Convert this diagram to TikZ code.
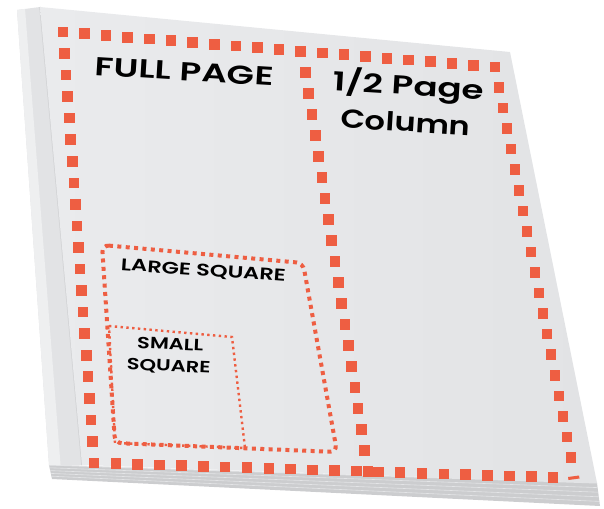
\documentclass[tikz,border=0pt]{standalone}
\usepackage{fontspec}
\setmainfont{Poppins}[BoldFont={Poppins SemiBold}]
\usetikzlibrary{calc}
\definecolor{dotorange}{RGB}{238,94,66}
\definecolor{pageleft}{RGB}{234,235,237}
\definecolor{pageright}{RGB}{226,227,229}
\definecolor{bandgray}{RGB}{226,227,229}
\definecolor{bandlight}{RGB}{238,239,240}
\definecolor{bandline}{RGB}{210,211,213}
\definecolor{stackgray}{RGB}{204,205,207}
\definecolor{stackline}{RGB}{228,229,231}
\newcommand\squarerow[5]{%
  \foreach \i in {#4,...,#5}{%
    \fill[sqdot] ($(#1)!\i/#3!(#2)$) +(-5.3,-5.3) rectangle +(5.3,5.3);}}
\begin{document}
\begin{tikzpicture}[x=1pt,y=-1pt,
  sqdot/.style={fill=dotorange},
  bigtitle/.style={font=\fontsize{26}{30}\selectfont\bfseries, anchor=base, inner sep=0pt, rotate=-3.5, xscale=1.37},
  midtitle/.style={font=\fontsize{16.8}{20}\selectfont\bfseries, anchor=base, inner sep=0pt, rotate=-4, xscale=1.34},
  smalltitle/.style={font=\fontsize{16.2}{20}\selectfont\bfseries, anchor=base, inner sep=0pt, rotate=-2.5, xscale=1.3},
  largebox/.style={draw=dotorange, line width=4pt, dash pattern=on 4pt off 4.4pt, rounded corners=7pt},
  smallbox/.style={draw=dotorange, line width=2.4pt, dash pattern=on 2.4pt off 3.4pt},
  edge line/.style={line width=0.6pt}]
\useasboundingbox (0,0) rectangle (604,508);

% paper geometry
\coordinate (L1) at (17,10);
\coordinate (L2) at (40,7);
\coordinate (P2) at (510,52);
\coordinate (P3) at (597,483);
\coordinate (L3) at (82,465);
\coordinate (L4) at (49,465);
\coordinate (S3) at (600,506);
\coordinate (S4) at (52,479);

% stack side
\fill[stackgray] (L4) -- (P3) -- (S3) -- (S4) -- cycle;
\foreach \f in {0.2,0.4,0.6,0.8}
  \draw[stackline, edge line] ($(L4)!\f!(S4)$) -- ($(P3)!\f!(S3)$);
\draw[stackline, line width=1pt] (L4) -- (P3);

% left band
\fill[bandgray] (L1) -- (L2) -- (L3) -- (L4) -- cycle;
\fill[bandlight] (L1) -- ($(L1)!0.35!(L2)$) -- ($(L4)!0.35!(L3)$) -- (L4) -- cycle;
\draw[bandline, line width=1.5pt] (L2) -- (L3);

% top face
\shade[left color=pageleft, right color=pageright] (L2) -- (P2) -- (P3) -- (L3) -- cycle;

% full page frame corners
\coordinate (F1) at (63,32);
\coordinate (F2) at (495,67);
\coordinate (F3) at (575,478);
\coordinate (F4) at (94,463);
\coordinate (C1) at (302,51.5);
\coordinate (C2) at (368,471.5);

\squarerow{F1}{F2}{20}{0}{20}
\squarerow{F2}{F3}{20}{1}{19}
\squarerow{F4}{F3}{22}{0}{21}
\squarerow{F1}{F4}{20}{1}{19}
\squarerow{C1}{C2}{20}{1}{20}
\fill[sqdot] (568,477) -- (579,475.5) -- (579.5,478.5) -- (568.5,480) -- cycle;

% large and small squares
\draw[largebox] (102,245) -- (303,263) -- (337,452) -- (115,443) -- cycle;
\draw[smallbox] (109,326) -- (232,337) -- (245,448) -- (115,443) -- cycle;

% labels
\node[bigtitle] (full) at (184,80.5) {FULL PAGE};
\node[bigtitle] (halfa) at (408,95) {1/2 Page};
\node[bigtitle, xscale=0.9] (halfb) at (405,131.5) {Column};
\node[midtitle] (large) at (203,276) {LARGE SQUARE};
\node[smalltitle] (smalla) at (170,349.5) {SMALL};
\node[smalltitle] (smallb) at (168.5,371.3) {SQUARE};
\end{tikzpicture}
\end{document}
